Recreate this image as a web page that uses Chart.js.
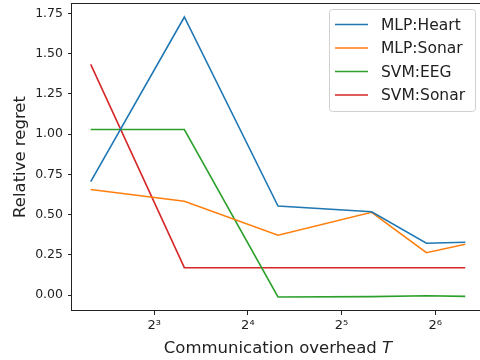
<!DOCTYPE html>
<html>
<head>
<meta charset="utf-8">
<script src="https://cdn.jsdelivr.net/npm/chart.js@4/dist/chart.umd.min.js"></script>
<style>
  html, body { margin: 0; padding: 0; background: #fff; overflow: hidden; }
  #wrap { width: 484px; height: 360px; }
</style>
</head>
<body>
<div id="wrap"><canvas id="regretChart" width="484" height="360"></canvas></div>
<script>
// communication overhead T (x) and relative regret per series
const overhead = [5, 10, 20, 40, 60, 80];
const seriesNames = ["MLP:Heart", "MLP:Sonar", "SVM:EEG", "SVM:Sonar"];
const mlpHeart = [0.705, 1.727, 0.553, 0.517, 0.322, 0.328];
const mlpSonar = [0.656, 0.583, 0.372, 0.514, 0.263, 0.316];
const svmEeg = [1.028, 1.028, -0.012, -0.010, -0.004, -0.008];
const svmSonar = [1.433, 0.170, 0.170, 0.170, 0.170, 0.170];
const xTickValues = [8, 16, 32, 64];
const xTickLabels = ["2³", "2⁴", "2⁵", "2⁶"];
const yTickValues = [0, 0.25, 0.5, 0.75, 1, 1.25, 1.5, 1.75];
const colors = ["#1f77b4", "#ff7f0e", "#2ca02c", "#d62728"];

const FONT = "'DejaVu Sans', sans-serif";
const allSeries = [mlpHeart, mlpSonar, svmEeg, svmSonar];

// full box around the axes (matplotlib spines)
const frame = {
    id: "frame",
    afterDatasetsDraw(chart) {
        const { ctx, chartArea: a } = chart;
        ctx.save();
        ctx.strokeStyle = "#222";
        ctx.lineWidth = 1;
        ctx.strokeRect(Math.round(a.left) - 0.5, Math.round(a.top) + 0.5,
            Math.round(a.right - a.left) + 1, Math.round(a.bottom - a.top) - 1);
        ctx.restore();
    }
};

// legend in the upper right corner, matplotlib style
const cornerLegend = {
    id: "cornerLegend",
    afterDraw(chart) {
        const { ctx, chartArea: a } = chart;
        const w = 146, h = 102;
        const x0 = a.right - 9 - w, y0 = a.top + 6;
        ctx.save();
        ctx.beginPath();
        ctx.roundRect(x0 + 0.5, y0 + 0.5, w, h, 3);
        ctx.fillStyle = "rgba(255,255,255,0.8)";
        ctx.fill();
        ctx.strokeStyle = "#d0d0d0";
        ctx.lineWidth = 1;
        ctx.stroke();
        ctx.font = "15.5px " + FONT;
        ctx.textBaseline = "middle";
        chart.data.datasets.forEach((ds, i) => {
            const y = y0 + 15.5 + i * 23.5;
            ctx.strokeStyle = ds.borderColor;
            ctx.lineWidth = 1.6;
            ctx.beginPath();
            ctx.moveTo(x0 + 6, y);
            ctx.lineTo(x0 + 39, y);
            ctx.stroke();
            ctx.fillStyle = "#222";
            ctx.fillText(ds.label, x0 + 52, y + 1);
        });
        ctx.restore();
    }
};

// x axis title with italic T
const xTitle = {
    id: "xTitle",
    afterDraw(chart) {
        const { ctx, chartArea: a } = chart;
        const main = "Communication overhead ";
        ctx.save();
        ctx.font = "16.5px " + FONT;
        const w1 = ctx.measureText(main).width;
        ctx.font = "italic 16.5px " + FONT;
        const w2 = ctx.measureText("T").width;
        let x = (a.left + a.right) / 2 - (w1 + w2) / 2;
        ctx.fillStyle = "#222";
        ctx.textBaseline = "alphabetic";
        ctx.font = "16.5px " + FONT;
        ctx.fillText(main, x, 353);
        ctx.font = "italic 16.5px " + FONT;
        ctx.fillText("T", x + w1, 353);
        ctx.restore();
    }
};

const ctx = document.getElementById("regretChart").getContext("2d");
new Chart(ctx, {
    type: "line",
    data: {
        datasets: seriesNames.map((name, i) => ({
            label: name,
            data: overhead.map((t, j) => ({ x: t, y: allSeries[i][j] })),
            borderColor: colors[i],
            backgroundColor: colors[i],
            borderWidth: 1.6,
            pointRadius: 0,
            tension: 0,
            fill: false
        }))
    },
    options: {
        responsive: false,
        animation: false,
        devicePixelRatio: 1,
        layout: { padding: { left: 0, top: 3, right: 0, bottom: 0 } },
        plugins: {
            legend: { display: false },
            tooltip: { enabled: false }
        },
        scales: {
            x: {
                type: "logarithmic",
                min: 4.353,
                max: 91.9,
                afterBuildTicks: (scale) => {
                    scale.ticks = xTickValues.map(v => ({ value: v }));
                },
                afterFit: (scale) => {
                    scale.height = 49;
                    scale.paddingLeft = 0;
                    scale.paddingRight = 0;
                },
                grid: { drawOnChartArea: false, drawTicks: true, tickLength: 4, tickColor: "#222", tickWidth: 1 },
                border: { display: false },
                ticks: {
                    autoSkip: false,
                    maxRotation: 0,
                    padding: 3,
                    color: "#222",
                    font: { family: FONT, size: 13 },
                    callback: (v) => xTickLabels[xTickValues.indexOf(v)]
                }
            },
            y: {
                min: -0.099,
                max: 1.814,
                afterBuildTicks: (scale) => {
                    scale.ticks = yTickValues.map(v => ({ value: v }));
                },
                afterFit: (scale) => {
                    scale.width = 72;
                    scale.paddingTop = 0;
                    scale.paddingBottom = 0;
                },
                grid: { drawOnChartArea: false, drawTicks: true, tickLength: 4, tickColor: "#222", tickWidth: 1 },
                border: { display: false },
                ticks: {
                    padding: 5,
                    color: "#222",
                    font: { family: FONT, size: 12.5 },
                    callback: (v) => v.toFixed(2)
                },
                title: {
                    display: true,
                    text: "Relative regret",
                    color: "#222",
                    font: { family: FONT, size: 16.5 },
                    padding: { top: 11, bottom: 0 }
                }
            }
        }
    },
    plugins: [frame, cornerLegend, xTitle]
});
</script>
</body>
</html>
